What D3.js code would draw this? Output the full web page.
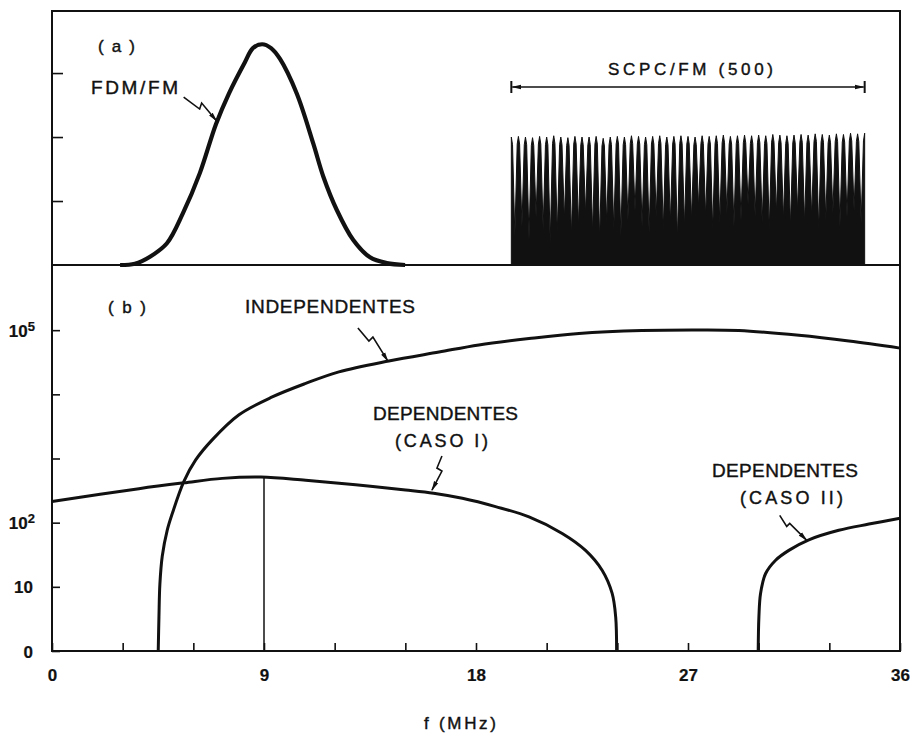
<!DOCTYPE html>
<html><head><meta charset="utf-8">
<script src="https://cdn.jsdelivr.net/npm/d3@7"></script>
<style>
body{margin:0;background:#fff}
svg text{font-family:"Liberation Sans",Arial,sans-serif;fill:#111;stroke:#111;stroke-width:0.4px}
</style></head><body>
<svg id="c" width="918" height="736"></svg>
<script>
// ---------- data ----------
// x axis ticks (MHz)
const xTickVals = [0,3,6,9,12,15,18,21,24,27,30,33,36];
const xLabelVals = [0,9,18,27,36];
// bottom panel log axis ticks
const yBotTicks = [1,10,100,1000,10000,100000];
// top panel ticks
const yTopTicks = [1,2,3];

// (a) FDM/FM spectrum (relative units)
const fdmF = [2.89,3.52,4.16,4.88,5.56,6.28,6.96,7.51,8.19,8.53,8.92,9.30,9.68,10.39,11.09,11.52,12.09,12.79,13.50,14.21,14.99];
const fdmV = [0,0.02,0.13,0.34,0.81,1.44,2.2,2.68,3.17,3.39,3.45,3.39,3.22,2.68,1.90,1.38,0.86,0.39,0.12,0.03,0];

// (a) SCPC/FM comb: carriers from 19.5 to 34.5 MHz
const combStart = 19.5, combEnd = 34.5;
const combPeaks = [2.00,2.01,2.00,1.99,2.01,2.00,2.02,2.00,1.99,2.01,2.00,2.00,2.01,1.98,2.00,2.01,2.00,2.02,2.01,2.00,2.01,2.02,2.00,2.01,2.02,2.01,2.00,2.02,2.01,2.02,2.03,2.01,2.02,2.03,2.02,2.03,2.02,2.04,2.03,2.02,2.03,2.04,2.03,2.05,2.04,2.03,2.05,2.04,2.06,2.05,2.06];
const combValleys = [0.45,0.60,0.40,0.75,0.55,0.35,0.50,0.70,0.45,0.60,0.80,0.50,0.40,0.65,0.55,0.45,0.70,0.85,0.60,0.50,0.75,0.55,0.65,0.40,0.60,0.70,0.90,0.75,0.55,0.65,0.80,0.60,0.70,0.95,0.75,0.65,0.55,0.80,0.70,0.60,0.85,0.65,0.75,0.55,0.70,0.80,0.60,0.75,0.85,0.65];

// (b) INDEPENDENTES
const indF = [4.51,4.54,4.58,4.68,4.89,5.11,5.60,6.10,6.80,7.94,9.35,10.77,12.18,14.30,16.43,18.12,20.25,22.37,25.04,27.46,29.16,31.71,33.83,36.0];
const indV = [1,3.4,11,30,76,140,440,950,1950,4800,9100,14800,22400,33100,45700,58900,74100,89100,99000,101000,99000,83000,67600,52500];
// (b) DEPENDENTES (CASO I)
const dep1F = [0,3.69,5.6,7.23,8.87,10.77,12.89,15.01,16.2,17.42,18.83,20.25,21.66,22.65,23.36,23.78,23.93,23.97];
const dep1V = [214,339,417,490,513,457,389,324,288,240,178,123,68,37,18,7.9,3.4,1];
// (b) DEPENDENTES (CASO II)
const dep2F = [29.98,30.01,30.08,30.29,30.72,31.28,32.13,33.4,34.68,36.0];
const dep2V = [1,3.4,7.9,16,26,37,54,76,95,117];
// vertical marker at 9 MHz
const markF = 9, markV = 513;

// ---------- drawing ----------
const svg = d3.select("#c");
const ink = "#111";
const x = d3.scaleLinear().domain([0,36]).range([52,900]);
const yTop = d3.scaleLinear().domain([0,3.97]).range([265,11]);
const yBot = d3.scaleLog().domain([1,1e6]).range([651,266]);

const defs = svg.append("defs");
defs.append("marker").attr("id","ah").attr("viewBox","0 -3 10 6").attr("refX",9).attr("refY",0)
  .attr("markerWidth",10).attr("markerHeight",6).attr("markerUnits","userSpaceOnUse").attr("orient","auto-start-reverse")
  .append("path").attr("d","M0,-2.3L10,0L0,2.3Z").attr("fill",ink);

// frames
svg.append("rect").attr("x",x(0)).attr("y",yTop(3.97)).attr("width",x(36)-x(0)).attr("height",yTop(0)-yTop(3.97))
  .attr("fill","none").attr("stroke",ink).attr("stroke-width",2);
svg.append("rect").attr("x",x(0)).attr("y",yTop(0)).attr("width",x(36)-x(0)).attr("height",yBot(1)-yTop(0))
  .attr("fill","none").attr("stroke",ink).attr("stroke-width",2);

// axes
const gx = svg.append("g").attr("transform",`translate(0,${yBot(1)})`)
  .call(d3.axisBottom(x).tickValues(xTickVals).tickSizeInner(-8).tickSizeOuter(0).tickPadding(18)
    .tickFormat(d => xLabelVals.includes(d) ? d : ""));
gx.select(".domain").remove();
gx.selectAll("line").attr("stroke",ink).attr("stroke-width",1.6);
gx.selectAll("text").attr("font-size",17).attr("font-weight","bold").style("stroke-width","0.2px");

const gyT = svg.append("g").attr("transform",`translate(${x(0)},0)`)
  .call(d3.axisLeft(yTop).tickValues(yTopTicks).tickSizeInner(-11).tickSizeOuter(0).tickFormat(""));
gyT.select(".domain").remove();
gyT.selectAll("line").attr("stroke",ink).attr("stroke-width",1.6);

const gyB = svg.append("g").attr("transform",`translate(${x(0)},0)`)
  .call(d3.axisLeft(yBot).tickValues(yBotTicks).tickSizeInner(-8).tickSizeOuter(0).tickPadding(19).tickFormat(""));
gyB.select(".domain").remove();
gyB.selectAll("line").attr("stroke",ink).attr("stroke-width",1.6);
const expo = {1:null,10:null,100:"2",100000:"5"};
const base = {1:"0",10:"10",100:"10",100000:"10"};
gyB.selectAll(".tick").each(function(d){
  if (!(d in base)) return;
  const t = d3.select(this).select("text").attr("font-size",17).attr("font-weight","bold")
    .style("stroke-width","0.2px").attr("text-anchor","end").attr("dy","0.36em");
  t.text(null);
  if (expo[d]) {
    t.attr("x",-17);
    t.append("tspan").text(base[d]);
    t.append("tspan").attr("dy","-0.45em").attr("font-size",13).text(expo[d]);
  } else {
    t.attr("x",-19).text(base[d]);
  }
});

// (a) FDM/FM curve
const lineTop = d3.line().x(d=>x(d[0])).y(d=>yTop(d[1])).curve(d3.curveCatmullRom.alpha(0.5));
svg.append("path").datum(fdmF.map((f,i)=>[f,fdmV[i]])).attr("d",lineTop)
  .attr("fill","none").attr("stroke",ink).attr("stroke-width",4.2).attr("stroke-linejoin","round");

// (a) comb: narrow spikes with deep gaps between them
const step = (combEnd-combStart)/(combPeaks.length-1);
const hw = step*0.17;
const combPts = [[combStart,0]];
combPeaks.forEach((p,i)=>{
  const f = combStart+i*step;
  if (i>0) combPts.push([f-hw, p-0.12]);
  combPts.push([f,p]);
  if (i < combValleys.length) {
    combPts.push([f+hw, p-0.12]);
    combPts.push([f+step*0.5, combValleys[i]]);
  }
});
combPts.push([combEnd,0]);
svg.append("path").datum(combPts)
  .attr("d", d3.line().x(d=>x(d[0])).y(d=>yTop(d[1])))
  .attr("fill",ink).attr("stroke",ink).attr("stroke-width",1).attr("stroke-linejoin","round");

// SCPC span arrow
const ya = 87;
svg.append("line").attr("x1",x(combStart)+1).attr("x2",x(combEnd)-1).attr("y1",ya).attr("y2",ya)
  .attr("stroke",ink).attr("stroke-width",1.5).attr("marker-start","url(#ah)").attr("marker-end","url(#ah)");
[combStart,combEnd].forEach(f=>svg.append("line").attr("x1",x(f)).attr("x2",x(f)).attr("y1",ya-6).attr("y2",ya+6)
  .attr("stroke",ink).attr("stroke-width",2));

// (b) curves
const lineBot = d3.line().x(d=>x(d[0])).y(d=>yBot(d[1])).curve(d3.curveCatmullRom.alpha(0.5));
[[indF,indV],[dep1F,dep1V],[dep2F,dep2V]].forEach(([F,V])=>{
  svg.append("path").datum(F.map((f,i)=>[f,V[i]])).attr("d",lineBot)
    .attr("fill","none").attr("stroke",ink).attr("stroke-width",3).attr("stroke-linejoin","round");
});
svg.append("line").attr("x1",x(markF)).attr("x2",x(markF)).attr("y1",yBot(1)).attr("y2",yBot(markV))
  .attr("stroke",ink).attr("stroke-width",1.5);

// leaders (lightning-style) ending at points on the curves
function leader(tx, ty, offs){
  const pts = offs.map(o=>[tx+o[0],ty+o[1]]).concat([[tx,ty]]);
  svg.append("path").attr("d",d3.line()(pts)).attr("fill","none").attr("stroke",ink)
    .attr("stroke-width",1.6).attr("marker-end","url(#ah)");
}
leader(x(6.99), yTop(2.25), [[-33,-24],[-17,-12],[-15,-18]]);
leader(x(14.26), yBot(33000), [[-30,-33],[-19,-20],[-15,-24]]);
leader(x(16.13), yBot(300)-2, [[10,-34],[5,-22],[10,-19]]);
leader(x(32.04), yBot(53), [[-27,-25],[-20,-14],[-17,-17]]);

// texts
const labels = [
  {t:"(a)", x:98, y:52, w:37, s:17},
  {t:"FDM/FM", x:91, y:94, w:87, s:19},
  {t:"SCPC/FM (500)", x:608, y:75, w:165, s:17},
  {t:"(b)", x:108, y:313, w:38, s:17},
  {t:"INDEPENDENTES", x:245, y:313, w:170, s:19},
  {t:"DEPENDENTES", x:373, y:420, w:145, s:19},
  {t:"(CASO I)", x:395, y:447, w:93, s:18},
  {t:"DEPENDENTES", x:712, y:477, w:146, s:19},
  {t:"(CASO II)", x:740, y:504, w:103, s:18},
  {t:"f (MHz)", x:424, y:729, w:72, s:17}
];
svg.selectAll("text.lab").data(labels).join("text").attr("class","lab")
  .attr("x",d=>d.x).attr("y",d=>d.y).attr("font-size",d=>d.s)
  .attr("textLength",d=>d.w).attr("lengthAdjust","spacing").text(d=>d.t);
</script>
</body></html>
